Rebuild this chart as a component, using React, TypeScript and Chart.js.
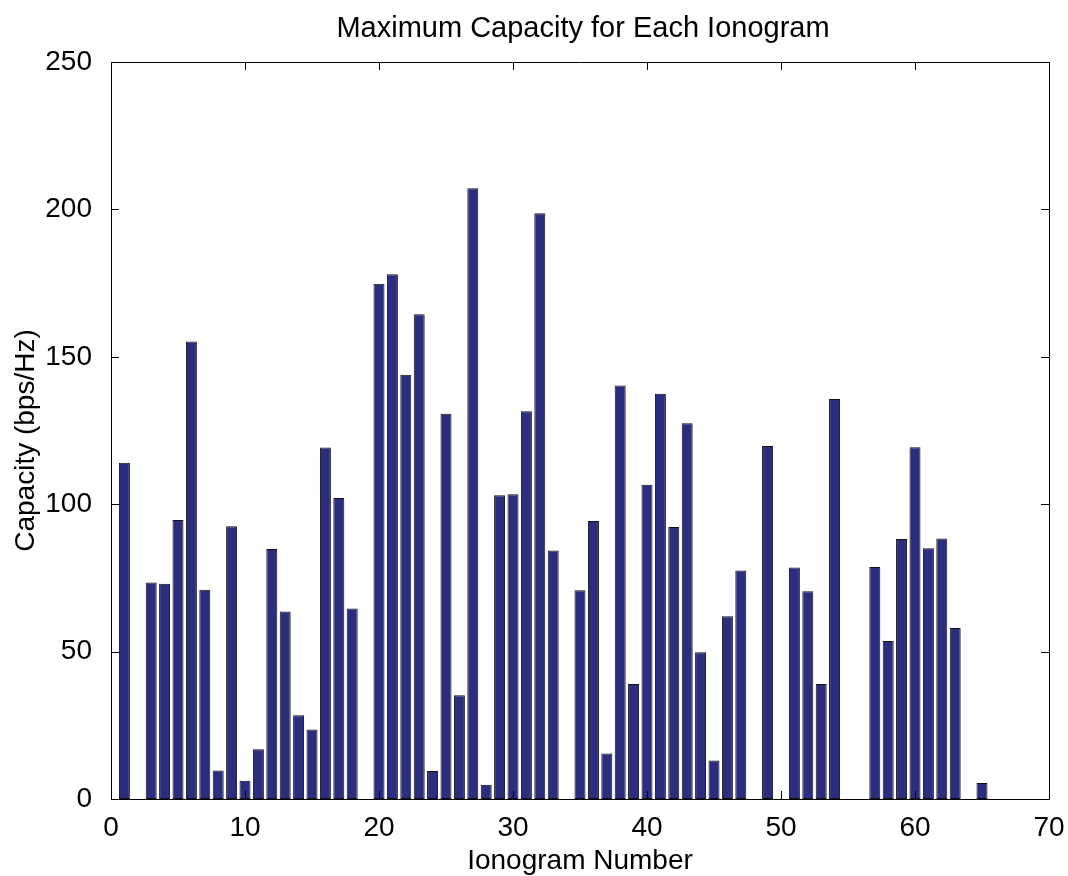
import React, { useEffect, useRef } from "react";
import { Chart, registerables } from "chart.js";

Chart.register(...registerables);

const ionogramNumbers: number[] = Array.from({ length: 65 }, (_, i) => i + 1);
const capacityValues: number[] = [
  114.1, 0, 73.4, 73.0, 94.6, 155.2, 71.0, 9.7, 92.5, 6.2,
  16.9, 84.8, 63.6, 28.4, 23.6, 119.2, 102.1, 64.6, 0, 174.8,
  178.0, 143.9, 164.4, 9.5, 130.7, 35.2, 207.2, 4.8, 103.0, 103.4,
  131.5, 198.7, 84.3, 0, 70.8, 94.3, 15.4, 140.3, 39.0, 106.6,
  137.5, 92.3, 127.5, 49.8, 13.1, 62.0, 77.5, 0, 119.7, 0,
  78.5, 70.5, 39.0, 135.7, 0, 0, 78.7, 53.6, 88.2, 119.3,
  85.1, 88.4, 58.0, 0, 5.4,
];
const xTickValues: number[] = [0, 10, 20, 30, 40, 50, 60, 70];
const yTickValues: number[] = [0, 50, 100, 150, 200, 250];

const chartTitle = "Maximum Capacity for Each Ionogram";
const xAxisTitle = "Ionogram Number";
const yAxisTitle = "Capacity (bps/Hz)";

const FONT = "'Liberation Sans', Arial, Helvetica, sans-serif";

const boxPlugin = {
  id: "matlabBox",
  afterDraw(chart: any) {
    const { ctx, chartArea, scales } = chart;
    const { left, right, top, bottom } = chartArea;
    const tl = 8;
    ctx.save();
    ctx.strokeStyle = "#000";
    ctx.lineWidth = 1;
    ctx.beginPath();
    ctx.rect(Math.round(left) + 0.5, Math.round(top) + 0.5, Math.round(right - left), Math.round(bottom - top));
    for (const v of xTickValues) {
      const px = Math.round(scales.x.getPixelForValue(v)) + 0.5;
      ctx.moveTo(px, bottom);
      ctx.lineTo(px, bottom - tl);
      ctx.moveTo(px, top);
      ctx.lineTo(px, top + tl);
    }
    for (const v of yTickValues) {
      const py = Math.round(scales.y.getPixelForValue(v)) + 0.5;
      ctx.moveTo(left, py);
      ctx.lineTo(left + tl, py);
      ctx.moveTo(right, py);
      ctx.lineTo(right - tl, py);
    }
    ctx.stroke();

    // titles
    ctx.fillStyle = "#000";
    const cx = (left + right) / 2;
    ctx.textAlign = "center";
    ctx.textBaseline = "alphabetic";
    ctx.font = `29px ${FONT}`;
    ctx.fillText(chartTitle, cx + 3, 37);
    ctx.font = `28px ${FONT}`;
    ctx.fillText(xAxisTitle, cx, 869);
    ctx.save();
    ctx.translate(34, (top + bottom) / 2 + 10);
    ctx.rotate(-Math.PI / 2);
    ctx.fillText(yAxisTitle, 0, 0);
    ctx.restore();
    ctx.restore();
  },
};

export default function App() {
  const canvasRef = useRef<HTMLCanvasElement | null>(null);

  useEffect(() => {
    if (!canvasRef.current) return;
    const points = ionogramNumbers
      .map((n, i) => ({ x: n, y: capacityValues[i] }))
      .filter((p) => p.y > 0);

    const chart = new Chart(canvasRef.current, {
      type: "bar",
      data: {
        datasets: [
          {
            data: points as any,
            backgroundColor: "#2B2D7E",
            borderColor: "#111",
            borderWidth: 1,
            borderSkipped: false,
            inflateAmount: 0,
            barPercentage: 0.82,
            categoryPercentage: 1,
          },
        ],
      },
      options: {
        animation: false,
        responsive: false,
        devicePixelRatio: 1,
        layout: { padding: { top: 62, right: 19, bottom: 0, left: 0 } },
        plugins: {
          legend: { display: false },
          tooltip: { enabled: false },
          title: { display: false },
        },
        scales: {
          x: {
            type: "linear",
            min: 0,
            max: 70,
            offset: false,
            afterBuildTicks(scale: any) {
              scale.ticks = xTickValues.map((v) => ({ value: v }));
            },
            afterFit(scale: any) {
              scale.height = 77;
              scale.paddingLeft = 0;
              scale.paddingRight = 0;
            },
            grid: { display: false, offset: false },
            border: { display: false },
            ticks: {
              color: "#000",
              padding: 4,
              maxRotation: 0,
              autoSkip: false,
              font: { family: FONT, size: 28 },
            },
          },
          y: {
            type: "linear",
            min: 0,
            max: 250,
            afterBuildTicks(scale: any) {
              scale.ticks = yTickValues.map((v) => ({ value: v }));
            },
            afterFit(scale: any) {
              scale.width = 111;
              scale.paddingTop = 0;
              scale.paddingBottom = 0;
            },
            grid: { display: false },
            border: { display: false },
            ticks: {
              color: "#000",
              padding: 11,
              font: { family: FONT, size: 28 },
            },
          },
        },
      },
      plugins: [boxPlugin],
    } as any);

    return () => chart.destroy();
  }, []);

  return (
    <div style={{ position: "absolute", left: 0, top: 0, width: 1068, height: 876, background: "#fff" }}>
      <canvas ref={canvasRef} width={1068} height={876} />
    </div>
  );
}
